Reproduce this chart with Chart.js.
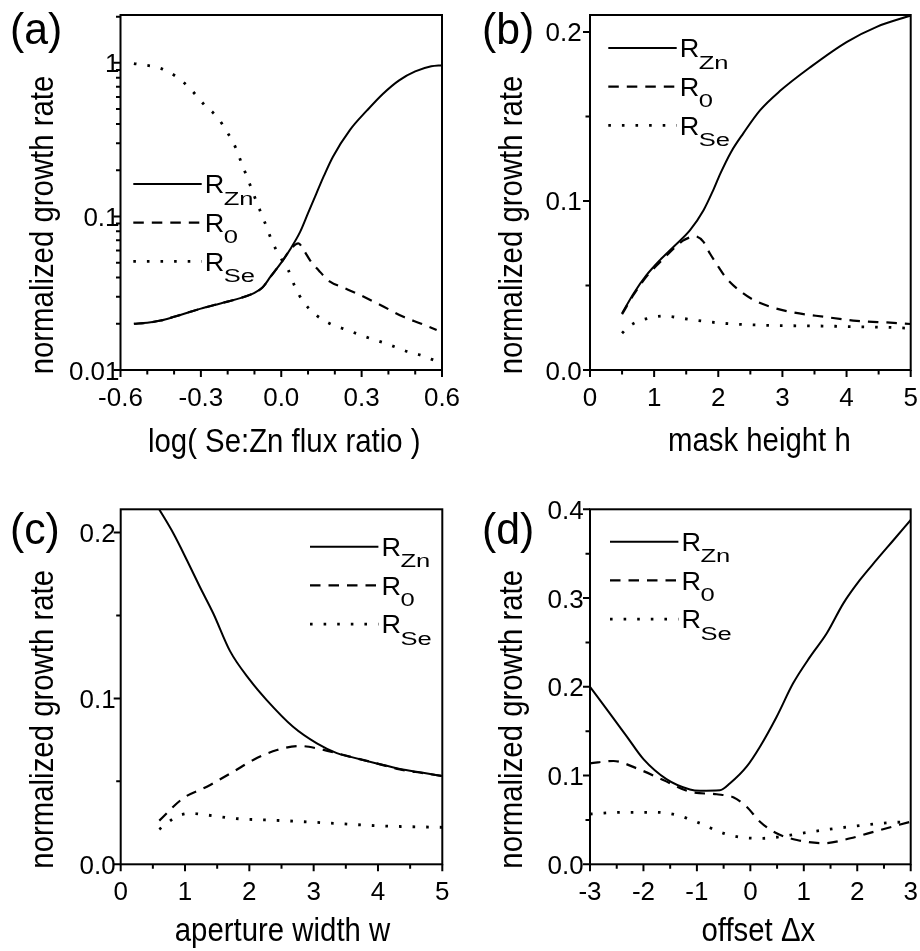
<!DOCTYPE html>
<html>
<head>
<meta charset="utf-8">
<title>Normalized growth rates</title>
<script src="https://cdn.jsdelivr.net/npm/chart.js@4.4.1/dist/chart.umd.min.js"></script>
<style>
  html, body { margin: 0; padding: 0; background: #fff; width: 920px; height: 951px; overflow: hidden; }
  canvas { position: absolute; left: 0; top: 0; }
</style>
</head>
<body>
<canvas id="panelA" width="920" height="951"></canvas>
<canvas id="panelB" width="920" height="951"></canvas>
<canvas id="panelC" width="920" height="951"></canvas>
<canvas id="panelD" width="920" height="951"></canvas>
<script>
// ---------- series names (R with subscript) ----------
const rateBase = 'R';
const rateSubs = ['Zn', '0', 'Se'];

// ---------- (a) growth rate vs log( Se:Zn flux ratio ) ----------
const fluxZn = [-0.55,-0.5,-0.45,-0.4,-0.35,-0.3,-0.25,-0.2,-0.15,-0.1,-0.07,-0.04,0.0,0.033,0.07,0.1,0.131,0.16,0.193,0.256,0.32,0.38,0.44,0.5,0.56,0.6];
const fluxRateZn = [0.0200,0.0203,0.0210,0.0222,0.0236,0.0251,0.0265,0.0279,0.0295,0.0318,0.0345,0.0405,0.0500,0.0610,0.0790,0.1050,0.1410,0.1850,0.2450,0.3650,0.4900,0.6300,0.7700,0.8800,0.9500,0.9660];
const flux0 = [-0.55,-0.5,-0.45,-0.4,-0.35,-0.3,-0.25,-0.2,-0.15,-0.1,-0.07,-0.04,0.0,0.033,0.064,0.085,0.107,0.14,0.182,0.23,0.28,0.37,0.456,0.52,0.58];
const fluxRate0 = [0.0200,0.0203,0.0210,0.0222,0.0236,0.0251,0.0265,0.0279,0.0295,0.0318,0.0345,0.0405,0.0500,0.0605,0.0668,0.0600,0.0520,0.0445,0.0376,0.0345,0.0316,0.0265,0.0222,0.0201,0.0182];
const fluxSe = [-0.55,-0.45,-0.39,-0.34,-0.29,-0.24,-0.2,-0.17,-0.148,-0.123,-0.1,-0.08,-0.055,-0.036,-0.005,0.026,0.051,0.082,0.13,0.18,0.23,0.28,0.33,0.39,0.47,0.52,0.58];
const fluxRateSe = [0.99,0.92,0.81,0.68,0.54,0.445,0.35,0.28,0.222,0.172,0.135,0.11,0.0857,0.07,0.0547,0.0448,0.0349,0.0279,0.0228,0.0201,0.0186,0.0173,0.0161,0.0149,0.0132,0.0125,0.0114];
const fluxTicks = [-0.6,-0.3,0,0.3,0.6];
const fluxTickLabels = ['-0.6','-0.3','0.0','0.3','0.6'];
const fluxMinor = [-0.5,-0.4,-0.2,-0.1,0.1,0.2,0.4,0.5];
const logRateTicks = [0.01,0.1,1];
const logRateTickLabels = ['0.01','0.1','1'];
const logRateMinor = [0.02,0.03,0.04,0.05,0.06,0.07,0.08,0.09,0.2,0.3,0.4,0.5,0.6,0.7,0.8,0.9,2];

// ---------- (b) growth rate vs mask height h ----------
const heightZn = [0.5,0.68,0.88,1.09,1.3,1.56,1.77,1.92,2.03,2.2,2.39,2.65,2.96,3.43,4.0,4.47,5.0];
const heightRateZn = [0.0335,0.0453,0.0561,0.0650,0.0728,0.0827,0.0945,0.1063,0.1160,0.1290,0.1400,0.1536,0.1650,0.1790,0.1940,0.2030,0.2097];
const height0 = [0.5,0.68,0.88,1.09,1.25,1.45,1.56,1.63,1.77,1.87,2.0,2.13,2.39,2.6,2.81,3.12,3.64,4.16,4.68,5.0];
const heightRate0 = [0.0330,0.0445,0.0553,0.0638,0.0699,0.0765,0.0785,0.0792,0.0758,0.0689,0.0612,0.0541,0.0453,0.0405,0.0374,0.0344,0.0315,0.0291,0.0280,0.0272];
const heightSe = [0.5,0.6,0.73,0.9,1.14,1.56,2.08,2.6,3.12,3.64,4.16,4.68,5.0];
const heightRateSe = [0.0217,0.0255,0.0285,0.0305,0.0319,0.0299,0.0276,0.0266,0.0262,0.0260,0.0256,0.0252,0.0246];

// ---------- (c) growth rate vs aperture width w ----------
const widthZn = [0.6,0.82,1.03,1.23,1.44,1.7,2.01,2.27,2.68,3.05,3.36,3.56,3.98,4.34,4.7,5.0];
const widthRateZn = [0.2139,0.1994,0.1833,0.1673,0.1512,0.1285,0.1110,0.0990,0.0829,0.0729,0.0670,0.0649,0.0608,0.0575,0.0552,0.0532];
const width0 = [0.6,0.97,1.34,1.75,2.06,2.43,2.79,3.05,3.56,3.98,4.34,4.7,5.0];
const widthRate0 = [0.0263,0.0398,0.0468,0.0558,0.0629,0.0689,0.0713,0.0699,0.0649,0.0608,0.0572,0.0550,0.0532];
const widthSe = [0.6,0.87,1.08,1.3,1.75,2.53,3.31,4.08,5.0];
const widthRateSe = [0.0211,0.0287,0.0307,0.0299,0.0277,0.0263,0.0247,0.0231,0.0223];

// shared ticks for (b) and (c)
const lengthTicks = [0,1,2,3,4,5];
const lengthTickLabels = ['0','1','2','3','4','5'];
const lengthMinor = [0.5,1.5,2.5,3.5,4.5];
const rateTicks = [0,0.1,0.2];
const rateTickLabels = ['0.0','0.1','0.2'];
const rateMinor = [0.05,0.15];

// ---------- (d) growth rate vs offset Δx ----------
const offsetZn = [-3,-2.63,-2.31,-2.0,-1.57,-1.13,-0.94,-0.57,-0.38,-0.07,0.18,0.49,0.8,1.12,1.43,1.74,2.05,2.36,2.68,3.0];
const offsetRateZn = [0.2000,0.1701,0.1439,0.1185,0.0960,0.0843,0.0829,0.0834,0.0913,0.1100,0.1325,0.1660,0.2039,0.2340,0.2603,0.2940,0.3204,0.3429,0.3654,0.3880];
const offset0 = [-3,-2.56,-2.13,-1.63,-1.13,-0.63,-0.32,-0.07,0.18,0.49,0.87,1.37,1.87,2.36,3.0];
const offsetRate0 = [0.1138,0.1164,0.1082,0.0950,0.0818,0.0789,0.0755,0.0649,0.0480,0.0349,0.0274,0.0237,0.0293,0.0375,0.0480];
const offsetSe = [-3,-2.38,-1.75,-1.38,-0.94,-0.5,-0.13,0.24,0.56,0.87,1.37,1.99,2.61,3.0];
const offsetRateSe = [0.0567,0.0586,0.0586,0.0556,0.0462,0.0349,0.0300,0.0293,0.0311,0.0341,0.0386,0.0432,0.0469,0.0480];
const offsetTicks = [-3,-2,-1,0,1,2,3];
const offsetTickLabels = ['-3','-2','-1','0','1','2','3'];
const offsetMinor = [-2.5,-1.5,-0.5,0.5,1.5,2.5];
const wideRateTicks = [0,0.1,0.2,0.3,0.4];
const wideRateTickLabels = ['0.0','0.1','0.2','0.3','0.4'];
const wideRateMinor = [0.05,0.15,0.25,0.35];

// ---------- drawing helpers ----------
const FONT = '"Liberation Sans", Arial, Helvetica, sans-serif';
const LINE_STYLES = [
  { width: 2.0, dash: [] },          // R_Zn solid
  { width: 2.2, dash: [10.5, 8] },   // R_0 dashed
  { width: 2.8, dash: [2.6, 11] }    // R_Se dotted
];
const TICK_FONT = { size: 26.5, sx: 0.98 };
const TITLE_FONT = { size: 33, sx: 0.89 };
const LEGEND_FONT = { size: 26, sx: 1.04 };
const SUB_FONT = { size: 18, sx: 1.42 };

function drawText(ctx, str, x, y, f, align, rot) {
  ctx.save();
  ctx.translate(x, y);
  if (rot) ctx.rotate(rot);
  ctx.scale(f.sx, 1);
  ctx.font = f.size + 'px ' + FONT;
  ctx.textAlign = align;
  ctx.textBaseline = 'alphabetic';
  ctx.fillStyle = '#000';
  ctx.fillText(str, 0, 0);
  ctx.restore();
}

function textWidth(ctx, str, f) {
  ctx.font = f.size + 'px ' + FONT;
  return ctx.measureText(str).width * f.sx;
}

// frame, outward ticks, tick labels, axis titles, panel tag and legend
const panelDecor = {
  id: 'panelDecor',
  afterDatasetsDraw(chart, args, o) {
    const ctx = chart.ctx;
    const a = chart.chartArea;
    const xs = chart.scales.x, ys = chart.scales.y;
    ctx.save();
    ctx.strokeStyle = '#000';
    ctx.setLineDash([]);
    ctx.lineCap = 'butt';
    ctx.lineWidth = 2;
    ctx.strokeRect(a.left, a.top, a.right - a.left, a.bottom - a.top);

    ctx.beginPath();
    o.xMajor.forEach(v => { const p = xs.getPixelForValue(v); ctx.moveTo(p, a.bottom); ctx.lineTo(p, a.bottom + 7); });
    o.xMinor.forEach(v => { const p = xs.getPixelForValue(v); ctx.moveTo(p, a.bottom); ctx.lineTo(p, a.bottom + 4.5); });
    o.yMajor.forEach(v => { const p = ys.getPixelForValue(v); ctx.moveTo(a.left, p); ctx.lineTo(a.left - 7, p); });
    o.yMinor.forEach(v => { const p = ys.getPixelForValue(v); ctx.moveTo(a.left, p); ctx.lineTo(a.left - 4.5, p); });
    ctx.stroke();

    o.xMajor.forEach((v, i) => drawText(ctx, o.xLabels[i], xs.getPixelForValue(v), a.bottom + o.xLabelDy, TICK_FONT, 'center'));
    o.yMajor.forEach((v, i) => drawText(ctx, o.yLabels[i], a.left - o.yLabelGap, ys.getPixelForValue(v) + 9.5, TICK_FONT, 'right'));

    drawText(ctx, o.xTitle, (a.left + a.right) / 2 + o.xTitleDx, a.bottom + o.xTitleDy, TITLE_FONT, 'center');
    drawText(ctx, o.yTitle, a.left - 68, (a.top + a.bottom) / 2 + 32.5, TITLE_FONT, 'center', -Math.PI / 2);

    drawText(ctx, o.tag, o.tagX, o.tagY, { size: 45, sx: 0.95 }, 'left');

    chart.data.datasets.forEach((ds, i) => {
      const y = o.legendY + i * 38.7;
      ctx.beginPath();
      ctx.lineWidth = ds.borderWidth;
      ctx.setLineDash(ds.borderDash);
      ctx.moveTo(o.legendX, y);
      ctx.lineTo(o.legendX + 68.4, y);
      ctx.stroke();
      ctx.setLineDash([]);
      const rx = o.legendX + 71.4;
      drawText(ctx, rateBase, rx, y + 9.3, LEGEND_FONT, 'left');
      const w = textWidth(ctx, rateBase, LEGEND_FONT);
      drawText(ctx, rateSubs[i], rx + w - 0.5, y + 20.5, SUB_FONT, 'left');
    });
    ctx.restore();
  }
};

function makePanel(id, p) {
  const datasets = p.series.map((s, i) => ({
    data: s[0].map((v, k) => ({ x: v, y: s[1][k] })),
    borderColor: '#000',
    backgroundColor: '#000',
    borderWidth: LINE_STYLES[i].width,
    borderDash: LINE_STYLES[i].dash,
    borderCapStyle: 'butt',
    borderJoinStyle: 'round',
    pointRadius: 0,
    fill: false,
    cubicInterpolationMode: 'monotone'
  }));
  const hidden = {
    ticks: { display: false },
    grid: { display: false, drawTicks: false },
    border: { display: false },
    title: { display: false }
  };
  return new Chart(document.getElementById(id), {
    type: 'line',
    data: { datasets },
    options: {
      responsive: false,
      devicePixelRatio: 1,
      animation: false,
      events: [],
      layout: { padding: { left: p.box[0], right: 920 - p.box[1], top: p.box[2], bottom: 951 - p.box[3] } },
      plugins: {
        legend: { display: false },
        tooltip: { enabled: false },
        panelDecor: p.decor
      },
      scales: {
        x: Object.assign({ type: 'linear', min: p.xRange[0], max: p.xRange[1], afterFit: s => { s.height = 0; } }, hidden),
        y: Object.assign({ type: p.yType, min: p.yRange[0], max: p.yRange[1], afterFit: s => { s.width = 0; } }, hidden)
      }
    },
    plugins: [panelDecor]
  });
}

const yTitle = 'normalized growth rate';

makePanel('panelA', {
  box: [120.5, 442, 15, 370],
  xRange: [-0.6, 0.6], yRange: [0.01, 2.05], yType: 'logarithmic',
  series: [[fluxZn, fluxRateZn], [flux0, fluxRate0], [fluxSe, fluxRateSe]],
  decor: {
    xMajor: fluxTicks, xLabels: fluxTickLabels, xMinor: fluxMinor,
    yMajor: logRateTicks, yLabels: logRateTickLabels, yMinor: logRateMinor,
    xLabelDy: 35.8, yLabelGap: 1,
    xTitle: 'log( Se:Zn flux ratio )', xTitleDx: 3, xTitleDy: 82,
    yTitle: yTitle, tag: '(a)', tagX: 10, tagY: 43.8,
    legendX: 133.3, legendY: 184
  }
});

makePanel('panelB', {
  box: [590, 910.7, 15, 370],
  xRange: [0, 5], yRange: [0, 0.21], yType: 'linear',
  series: [[heightZn, heightRateZn], [height0, heightRate0], [heightSe, heightRateSe]],
  decor: {
    xMajor: lengthTicks, xLabels: lengthTickLabels, xMinor: lengthMinor,
    yMajor: rateTicks, yLabels: rateTickLabels, yMinor: rateMinor,
    xLabelDy: 35.8, yLabelGap: 8.3,
    xTitle: 'mask height h', xTitleDx: 9, xTitleDy: 80.5,
    yTitle: yTitle, tag: '(b)', tagX: 482, tagY: 43.8,
    legendX: 608.3, legendY: 48
  }
});

makePanel('panelC', {
  box: [120.7, 442.3, 509.3, 864.3],
  xRange: [0, 5], yRange: [0, 0.214], yType: 'linear',
  series: [[widthZn, widthRateZn], [width0, widthRate0], [widthSe, widthRateSe]],
  decor: {
    xMajor: lengthTicks, xLabels: lengthTickLabels, xMinor: lengthMinor,
    yMajor: rateTicks, yLabels: rateTickLabels, yMinor: rateMinor,
    xLabelDy: 35.3, yLabelGap: 5,
    xTitle: 'aperture width w', xTitleDx: 1, xTitleDy: 76.5,
    yTitle: yTitle, tag: '(c)', tagX: 10, tagY: 543.9,
    legendX: 310, legendY: 546.7
  }
});

makePanel('panelD', {
  box: [590, 910.7, 509.3, 864.3],
  xRange: [-3, 3], yRange: [0, 0.4], yType: 'linear',
  series: [[offsetZn, offsetRateZn], [offset0, offsetRate0], [offsetSe, offsetRateSe]],
  decor: {
    xMajor: offsetTicks, xLabels: offsetTickLabels, xMinor: offsetMinor,
    yMajor: wideRateTicks, yLabels: wideRateTickLabels, yMinor: wideRateMinor,
    xLabelDy: 35.3, yLabelGap: 6.3,
    xTitle: 'offset \u0394x', xTitleDx: 8, xTitleDy: 76.5,
    yTitle: yTitle, tag: '(d)', tagX: 482, tagY: 543.9,
    legendX: 610, legendY: 541.7
  }
});
</script>
</body>
</html>
